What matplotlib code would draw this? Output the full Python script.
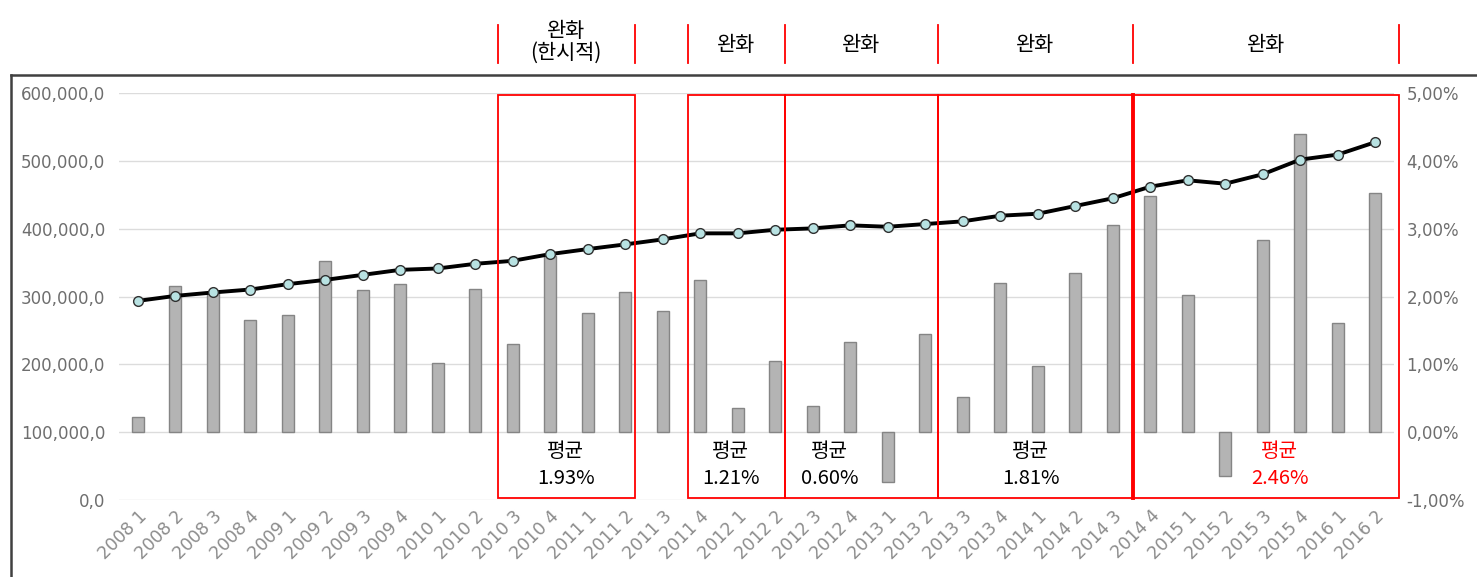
import matplotlib
matplotlib.use('Agg')
import matplotlib.pyplot as plt
from matplotlib.lines import Line2D
from matplotlib.patches import Rectangle
import matplotlib.transforms as mtransforms

plt.rcParams['font.family'] = ['Noto Sans CJK KR', 'DejaVu Sans']

# 분기 라벨
quarters = ['2008 1', '2008 2', '2008 3', '2008 4', '2009 1', '2009 2', '2009 3', '2009 4',
            '2010 1', '2010 2', '2010 3', '2010 4', '2011 1', '2011 2', '2011 3', '2011 4',
            '2012 1', '2012 2', '2012 3', '2012 4', '2013 1', '2013 2', '2013 3', '2013 4',
            '2014 1', '2014 2', '2014 3', '2014 4', '2015 1', '2015 2', '2015 3', '2015 4',
            '2016 1', '2016 2']

# 잔액 (좌축, 꺾은선)
balance = [293500, 300900, 305900, 310300, 318200, 324500, 331900, 339300,
           341300, 348200, 352600, 362500, 369900, 376800, 384200, 393100,
           393100, 398400, 400400, 404900, 402800, 406800, 410800, 419100,
           422000, 433400, 444800, 461900, 471300, 466300, 480200, 501800,
           509200, 527500]

# 증가율 % (우축, 막대)
growth = [0.22, 2.16, 2.06, 1.66, 1.73, 2.53, 2.09, 2.18,
          1.02, 2.11, 1.30, 2.60, 1.76, 2.06, 1.78, 2.25,
          0.36, 1.05, 0.38, 1.33, -0.73, 1.44, 0.52, 2.20,
          0.97, 2.35, 3.06, 3.48, 2.02, -0.64, 2.84, 4.40,
          1.61, 3.53]

# 완화 구간 (시작, 끝 위치) / 평균 라벨
periods = [(9.6, 13.25), (14.67, 17.25), (17.25, 21.33), (21.33, 26.53), (26.53, 33.63)]
period_titles = ['완화\n(한시적)', '완화', '완화', '완화', '완화']
avg_labels = ['1.93%', '1.21%', '0.60%', '1.81%', '2.46%']
avg_x = [11.41, 15.81, 18.45, 23.81, 30.45]
avg_colors = ['black', 'black', 'black', 'black', 'red']

x = list(range(len(quarters)))

fig = plt.figure(figsize=(14.77, 5.77), dpi=100)
ax1 = fig.add_axes([119/1477, 1-500/577, 1275/1477, 407/577])
ax2 = ax1.twinx()

# 막대: 증가율
ax2.bar(x, growth, width=0.32, color='#b4b4b4', edgecolor='#858585', linewidth=1, zorder=2)
ax2.set_ylim(-1, 5)
ax2.set_yticks(range(-1, 6))
ax2.set_yticklabels([('%.2f%%' % v).replace('.', ',') for v in range(-1, 6)])
ax2.yaxis.grid(True, color='#dcdcdc', linewidth=1)
ax2.set_axisbelow(True)

# 꺾은선: 잔액
ax1.set_zorder(ax2.get_zorder() + 1)
ax1.patch.set_visible(False)
ax1.plot(x, balance, '-o', color='black', linewidth=2.8, markersize=7,
         markerfacecolor='#b8e2e2', markeredgecolor='#303030', markeredgewidth=1, zorder=5)
ax1.set_ylim(0, 600000)
ax1.set_yticks(range(0, 600001, 100000))
ax1.set_yticklabels([('{:,.1f}'.format(v)).replace('.', ',') for v in range(0, 600001, 100000)])
ax1.set_xlim(-0.5, len(quarters) - 0.5)
ax1.set_xticks(x)
ax1.set_xticklabels(quarters, rotation=45, ha='right', va='top', rotation_mode='anchor',
                    color='#8c8c8c', fontsize=12.5, family='DejaVu Sans')

for a in (ax1, ax2):
    for s in a.spines.values():
        s.set_visible(False)
ax1.tick_params(axis='y', length=0, pad=10, labelsize=12, labelcolor='#6e6e6e')
ax2.tick_params(axis='y', length=0, pad=9, labelsize=12, labelcolor='#6e6e6e')
ax1.tick_params(axis='x', length=0, pad=5)
for lab in ax1.get_yticklabels() + ax2.get_yticklabels():
    lab.set_family('DejaVu Sans')

# 구간 박스, 상단 표시, 평균 라벨
trans = mtransforms.blended_transform_factory(ax1.transData, ax1.transAxes)
for i, (x0, x1) in enumerate(periods):
    ax1.add_patch(Rectangle((x0, 0.005), x1 - x0, 0.99, transform=trans, fill=False,
                            edgecolor='red', linewidth=1.3, clip_on=False, zorder=6))
    if i == 4:
        ax1.plot([x0, x0], [0.005, 0.995], transform=trans, color='red', linewidth=2.8,
                 clip_on=False, zorder=6)
    cx = (x0 + x1) / 2
    if i == 0:
        ax1.text(cx, 1.152, '완화', transform=trans, ha='center', va='center', fontsize=15)
        ax1.text(cx, 1.098, '(한시적)', transform=trans, ha='center', va='center', fontsize=15)
    else:
        ax1.text(cx, 1.117, period_titles[i], transform=trans, ha='center', va='center',
                 fontsize=15)
    ax2.text(avg_x[i], -0.28, '평균', ha='center', va='center', fontsize=14.5,
             color=avg_colors[i], zorder=7)
    ax2.text(avg_x[i], -0.69, avg_labels[i], ha='center', va='center', fontsize=14.5,
             color=avg_colors[i], zorder=7)

edges = sorted(set([p[0] for p in periods] + [p[1] for p in periods]))
for e in edges:
    ax1.plot([e, e], [1.074, 1.167], transform=trans, color='red', linewidth=1.3, clip_on=False)

# 차트 테두리
fig.add_artist(Line2D([11/1477, 1], [1-75/577, 1-75/577], transform=fig.transFigure,
                      color='#404040', linewidth=1.8))
fig.add_artist(Line2D([11/1477, 11/1477], [0, 1-75/577], transform=fig.transFigure,
                      color='#404040', linewidth=1.8))

fig.savefig('out.png', dpi=100)
